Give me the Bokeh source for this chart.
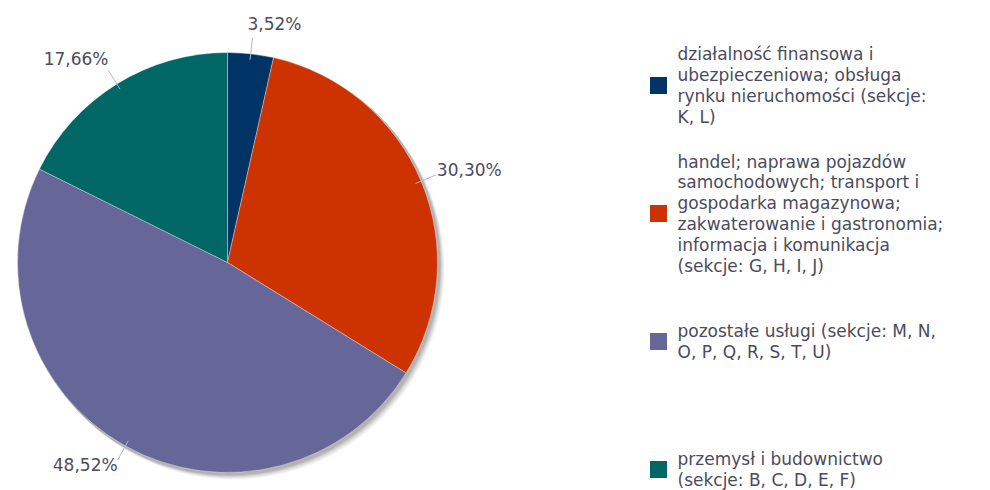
import math
from bokeh.plotting import figure
from bokeh.models import Range1d, ColumnDataSource
from bokeh.core.properties import value
from bokeh.embed import file_html
from bokeh.resources import INLINE

# ---- data ----
categories = [
    "działalność finansowa i\nubezpieczeniowa; obsługa\nrynku nieruchomości (sekcje:\nK, L)",
    "handel; naprawa pojazdów\nsamochodowych; transport i\ngospodarka magazynowa;\nzakwaterowanie i gastronomia;\ninformacja i komunikacja\n(sekcje: G, H, I, J)",
    "pozostałe usługi (sekcje: M, N,\nO, P, Q, R, S, T, U)",
    "przemysł i budownictwo\n(sekcje: B, C, D, E, F)",
]
shares = [3.52, 30.30, 48.52, 17.66]
labels = ["3,52%", "30,30%", "48,52%", "17,66%"]
colors = ["#003366", "#CC3300", "#666699", "#006666"]

W, H = 990, 490
p = figure(width=W, height=H, output_backend="svg", toolbar_location=None,
           x_range=Range1d(0, W), y_range=Range1d(0, H),
           min_border=0, outline_line_color=None)
p.axis.visible = False
p.grid.visible = False
p.background_fill_color = "white"

def Y(py):
    return H - py

cx, cy, R = 227, Y(262), 210
FONT = "DejaVu Sans"
TXT = "#4b4b5e"

# soft shadow
for off, a in [(6, 0.04), (5, 0.05), (4, 0.06), (3, 0.08), (2, 0.10)]:
    p.circle(x=[cx + off], y=[cy - off], radius=R + 1, fill_color="#000000",
             fill_alpha=a, line_color=None)

total = sum(shares)
starts, ends, mids = [], [], []
acc = 0.0
for s in shares:
    a0 = math.pi / 2 - 2 * math.pi * acc / total
    acc += s
    a1 = math.pi / 2 - 2 * math.pi * acc / total
    starts.append(a1)
    ends.append(a0)
    mids.append((a0 + a1) / 2)

src = ColumnDataSource(dict(start=starts, end=ends, color=colors))
p.wedge(x=cx, y=cy, radius=R, start_angle="start", end_angle="end",
        fill_color="color", line_color="white", line_width=0.6, line_alpha=0.6,
        source=src)

# data labels with connectors
for lab, m in zip(labels, mids):
    c, s = math.cos(m), math.sin(m)
    x0, y0 = cx + (R - 6) * c, cy + (R - 6) * s
    x1, y1 = cx + (R + 16) * c, cy + (R + 16) * s
    p.line([x0, x1], [y0, y1], line_color="#aabbcc", line_width=1)
    if abs(c) < 0.3:
        align, base, tx, ty = "center", "bottom", x1 + 22, y1 + 4
    elif c > 0:
        align, base, tx, ty = "left", "middle", x1 + 1, y1 + 5
    else:
        align, base, tx = "right", "middle", x1
        ty = y1 - 5 if s < 0 else y1 + 11
    p.text(x=[tx], y=[ty], text=[lab], text_font=value(FONT),
           text_font_size="17px", text_color=TXT, text_align=align,
           text_baseline=base)

# legend
for i, (cat, col) in enumerate(zip(categories, colors)):
    ey = Y(85 + 128 * i)
    p.rect(x=[658], y=[ey], width=17, height=17, fill_color=col, line_color=None)
    p.text(x=[677], y=[ey], text=[cat], text_font=value(FONT),
           text_font_size="17px", text_color=TXT, text_align="left",
           text_baseline="middle", text_line_height=1.04)

open("out.html", "w").write(file_html(p, INLINE))
